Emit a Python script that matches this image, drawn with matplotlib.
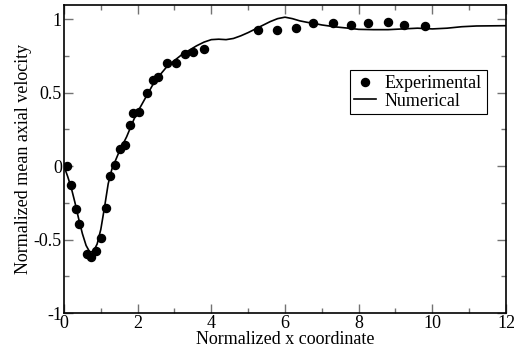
import matplotlib
matplotlib.use('Agg')
import matplotlib.pyplot as plt
from matplotlib.ticker import MultipleLocator, FormatStrFormatter

# experimental points
exp_x = [0.07, 0.18, 0.33, 0.40, 0.63, 0.74, 0.88, 1.01, 1.15, 1.26, 1.39, 1.53,
         1.66, 1.79, 1.88, 2.05, 2.26, 2.41, 2.54, 2.79, 3.03, 3.29, 3.51, 3.79,
         5.28, 5.78, 6.30, 6.76, 7.30, 7.80, 8.25, 8.80, 9.22, 9.79]
exp_y = [0.0, -0.13, -0.29, -0.395, -0.60, -0.617, -0.575, -0.49, -0.284, -0.065,
         0.011, 0.12, 0.143, 0.28, 0.36, 0.37, 0.496, 0.586, 0.607, 0.70, 0.70,
         0.763, 0.778, 0.795, 0.927, 0.927, 0.943, 0.973, 0.977, 0.96, 0.973,
         0.984, 0.96, 0.953]

# numerical curve
num_x = [0.0, 0.1, 0.2, 0.3, 0.4, 0.5, 0.6, 0.7, 0.8, 0.9, 1.0, 1.1, 1.2, 1.3,
         1.4, 1.5, 1.6, 1.7, 1.8, 1.9, 2.0, 2.2, 2.4, 2.6, 2.8, 3.0, 3.2, 3.4,
         3.6, 3.8, 4.0, 4.2, 4.4, 4.6, 4.8, 5.0, 5.2, 5.4, 5.6, 5.8, 6.0, 6.2,
         6.4, 6.6, 6.8, 7.0, 7.2, 7.4, 7.6, 7.8, 8.0, 8.4, 8.8, 9.2, 9.6, 10.0,
         10.4, 10.8, 11.2, 12.0]
num_y = [0.0, -0.07, -0.15, -0.25, -0.36, -0.46, -0.54, -0.585, -0.58, -0.53,
         -0.43, -0.28, -0.12, -0.02, 0.04, 0.10, 0.15, 0.20, 0.26, 0.32, 0.37,
         0.46, 0.55, 0.62, 0.68, 0.72, 0.76, 0.79, 0.82, 0.845, 0.862, 0.865,
         0.862, 0.87, 0.888, 0.91, 0.935, 0.96, 0.985, 1.005, 1.015, 1.005,
         0.99, 0.98, 0.972, 0.962, 0.955, 0.948, 0.943, 0.938, 0.932, 0.93,
         0.93, 0.935, 0.94, 0.935, 0.94, 0.95, 0.955, 0.957]

plt.rcParams['font.family'] = ['Liberation Serif', 'DejaVu Serif']
plt.rcParams['font.size'] = 13
plt.rcParams['axes.unicode_minus'] = False

fig, ax = plt.subplots(figsize=(5.14, 3.53), dpi=100)
fig.subplots_adjust(left=0.1245, right=0.9844, bottom=0.1133, top=0.9867)

ax.plot(exp_x, exp_y, 'o', color='black', markersize=5.8, label='Experimental',
        zorder=3)
ax.plot(num_x, num_y, '-', color='black', linewidth=1.2, label='Numerical')

ax.set_xlim(0, 12)
ax.set_ylim(-1, 1.1)
ax.xaxis.set_major_locator(MultipleLocator(2))
ax.xaxis.set_minor_locator(MultipleLocator(1))
ax.yaxis.set_major_locator(MultipleLocator(0.5))
ax.yaxis.set_minor_locator(MultipleLocator(0.25))
ax.yaxis.set_major_formatter(FormatStrFormatter('%g'))
ax.tick_params(which='both', direction='in', top=True, right=True,
               color='0.45', width=1)
ax.tick_params(which='major', length=6.5, pad=1.5)
ax.tick_params(which='minor', length=3.5)
for s in ax.spines.values():
    s.set_linewidth(1.2)

ax.set_xlabel('Normalized x coordinate', labelpad=-1)
ax.set_ylabel('Normalized mean axial velocity', labelpad=1)

leg = ax.legend(loc='upper right', bbox_to_anchor=(0.956, 0.787),
                borderaxespad=0, fancybox=False, framealpha=1,
                handlelength=1.2, handletextpad=0.5, borderpad=0.25,
                labelspacing=0.05)
leg.get_frame().set_edgecolor('black')
leg.get_frame().set_linewidth(0.8)

fig.savefig('out.png', dpi=100)
